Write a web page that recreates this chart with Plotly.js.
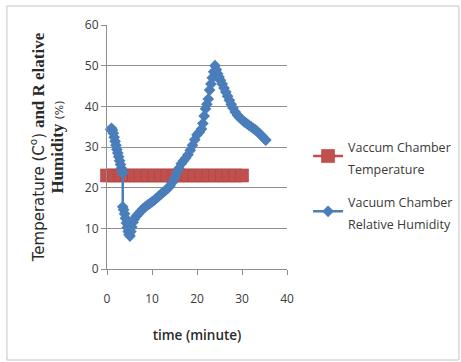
<!DOCTYPE html>
<html>
<head>
<meta charset="utf-8">
<script src="https://cdn.plot.ly/plotly-3.0.1.min.js"></script>
<style>
  html, body { margin: 0; padding: 0; background: #fff; }
  #chart { width: 461px; height: 362px; }
</style>
</head>
<body>
<div id="chart"></div>
<script>
// Vacuum chamber temperature (°C) over time (minutes)
const tempTime = [0, 1.5, 3, 4.5, 6, 7.5, 9, 10.5, 12, 13.5, 15, 16.5, 18, 19.5, 21, 22.5, 24, 25.5, 27, 28.5, 30];
const tempValue = [23, 23, 23, 23, 23, 23, 23, 23, 23, 23, 23, 23, 23, 23, 23, 23, 23, 23, 23, 23, 23];

// Vacuum chamber relative humidity (%) over time (minutes)
const rhTime = [
  0.8, 1.0, 1.2, 1.4, 1.6, 1.8, 2.0, 2.2, 2.4, 2.6, 2.8, 3.0, 3.2, 3.4, 3.5,
  3.5, 3.7, 3.9, 4.1, 4.3, 4.5, 4.7, 4.9, 5.1,
  5.3, 5.5, 5.8, 6.1, 6.5, 7.0, 7.5, 8.0, 8.5, 9.0, 9.5, 10.0, 10.5, 11.0, 11.5,
  12.0, 12.5, 13.0, 13.5, 14.0, 14.5, 15.0, 15.5, 16.0, 16.5, 17.0, 17.5, 18.0,
  18.5, 19.0, 19.5, 20.0, 20.5, 21.0, 21.3, 21.6, 21.9, 22.2, 22.5, 22.8, 23.1,
  23.4, 23.7, 24.0, 24.3, 24.6, 24.9, 25.2, 25.6, 26.0, 26.4, 26.8, 27.2, 27.6,
  28.0, 28.5, 29.0, 29.5, 30.0, 30.5, 31.0, 31.5, 32.0, 32.5, 33.0, 33.5, 34.0,
  34.5, 35.0, 35.3
];
const rhValue = [
  34.3, 34.6, 34.2, 33.4, 32.4, 31.4, 30.4, 29.4, 28.5, 27.6, 26.6, 25.7, 24.8, 24.0, 23.6,
  15.3, 14.6, 13.6, 12.5, 11.3, 10.2, 9.2, 8.5, 8.1,
  9.2, 10.3, 11.5, 12.3, 13.0, 13.6, 14.2, 14.8, 15.3, 15.7, 16.1, 16.5, 16.9, 17.4, 17.9,
  18.4, 18.9, 19.3, 19.8, 20.5, 21.3, 22.3, 23.6, 24.8, 25.9, 26.6, 27.3, 28.1,
  29.2, 30.4, 31.8, 33.0, 33.6, 34.4, 35.8, 37.6, 39.4, 40.5, 41.8, 44.0, 45.5,
  47.0, 48.5, 50.0, 49.0, 48.0, 47.2, 46.4, 45.5, 44.5, 43.5, 42.5, 41.5, 40.5,
  39.6, 38.6, 37.8, 37.2, 36.7, 36.2, 35.8, 35.4, 35.0, 34.6, 34.2, 33.7, 33.2,
  32.6, 32.0, 31.7
];

const tickFont = { family: 'Open Sans, Liberation Sans, sans-serif', size: 12, color: '#3a3a3a' };
const gridColor = '#8e8e8e';

// Legend labels: the outer legend font sets the line spacing, the span sets the glyph size
const legendSpan = (txt) => `<span style="font-size:12.5px">${txt}</span>`;

const traces = [
  {
    x: tempTime, y: tempValue,
    name: legendSpan('Vaccum Chamber') + '<br>' + legendSpan('Temperature'),
    legendgroup: 'temp',
    type: 'scatter', mode: 'lines+markers',
    cliponaxis: false,
    line: { color: '#C0504D', width: 2.5 },
    marker: { symbol: 'square', size: 13, color: '#C0504D', line: { color: '#A9413E', width: 0.6 } }
  },
  {
    x: rhTime, y: rhValue,
    name: legendSpan('Vacuum Chamber') + '<br>' + legendSpan('Relative Humidity'),
    legendgroup: 'rh',
    type: 'scatter', mode: 'lines+markers',
    cliponaxis: false,
    line: { color: '#4A7EBB', width: 2.5 },
    marker: { symbol: 'diamond', size: 9, color: '#4A7EBB', line: { width: 0 } }
  }
];

const serifBold = "font-family:'Liberation Serif','DejaVu Serif',serif;font-weight:bold;font-size:17px";
const sansPart = "font-family:'DejaVu Sans',sans-serif;font-size:15px;font-weight:normal";

const layout = {
  width: 461, height: 362,
  margin: { l: 107, r: 174, t: 25, b: 93, autoexpand: false },
  paper_bgcolor: '#ffffff', plot_bgcolor: '#ffffff',
  showlegend: true,
  legend: {
    x: 1.117, xanchor: 'left', y: 0.58, yanchor: 'top',
    font: { family: 'Open Sans, Liberation Sans, sans-serif', size: 17, color: '#3a3a3a' },
    tracegroupgap: 8, itemsizing: 'trace', bgcolor: 'rgba(0,0,0,0)'
  },
  xaxis: {
    range: [0, 40], dtick: 10, tick0: 0,
    showgrid: false, zeroline: false,
    showline: true, linecolor: gridColor, linewidth: 1,
    ticks: 'outside', ticklen: 5, tickcolor: gridColor,
    ticklabelstandoff: 14,
    tickfont: tickFont,
    title: {
      text: 'time (minute)',
      font: { family: 'Open Sans, Liberation Sans, sans-serif', size: 13.5, color: '#2a2a2a', weight: 600 },
      standoff: 24
    }
  },
  yaxis: {
    range: [0, 60], dtick: 10, tick0: 0,
    showgrid: true, gridcolor: gridColor, gridwidth: 1,
    zeroline: false,
    showline: true, linecolor: gridColor, linewidth: 1,
    ticks: 'outside', ticklen: 5, tickcolor: gridColor,
    tickfont: tickFont,
    title: {
      text: `<span style="${sansPart}">Temperature (C<sup>o</sup>) </span><span style="${serifBold}">and R elative</span><br><span style="${serifBold}">Humidity </span><span style="${sansPart};font-size:11px">(%)</span>`,
      font: { family: 'DejaVu Sans, sans-serif', size: 15, color: '#2a2a2a' },
      standoff: 17
    }
  },
  shapes: [
    {
      type: 'rect', xref: 'paper', yref: 'paper',
      x0: -0.556, x1: 1.955, y0: -0.373, y1: 1.078,
      line: { color: '#c4c4c4', width: 1 }, fillcolor: 'rgba(0,0,0,0)', layer: 'below'
    }
  ]
};

Plotly.newPlot('chart', traces, layout, { displayModeBar: false, staticPlot: true });
</script>
</body>
</html>
